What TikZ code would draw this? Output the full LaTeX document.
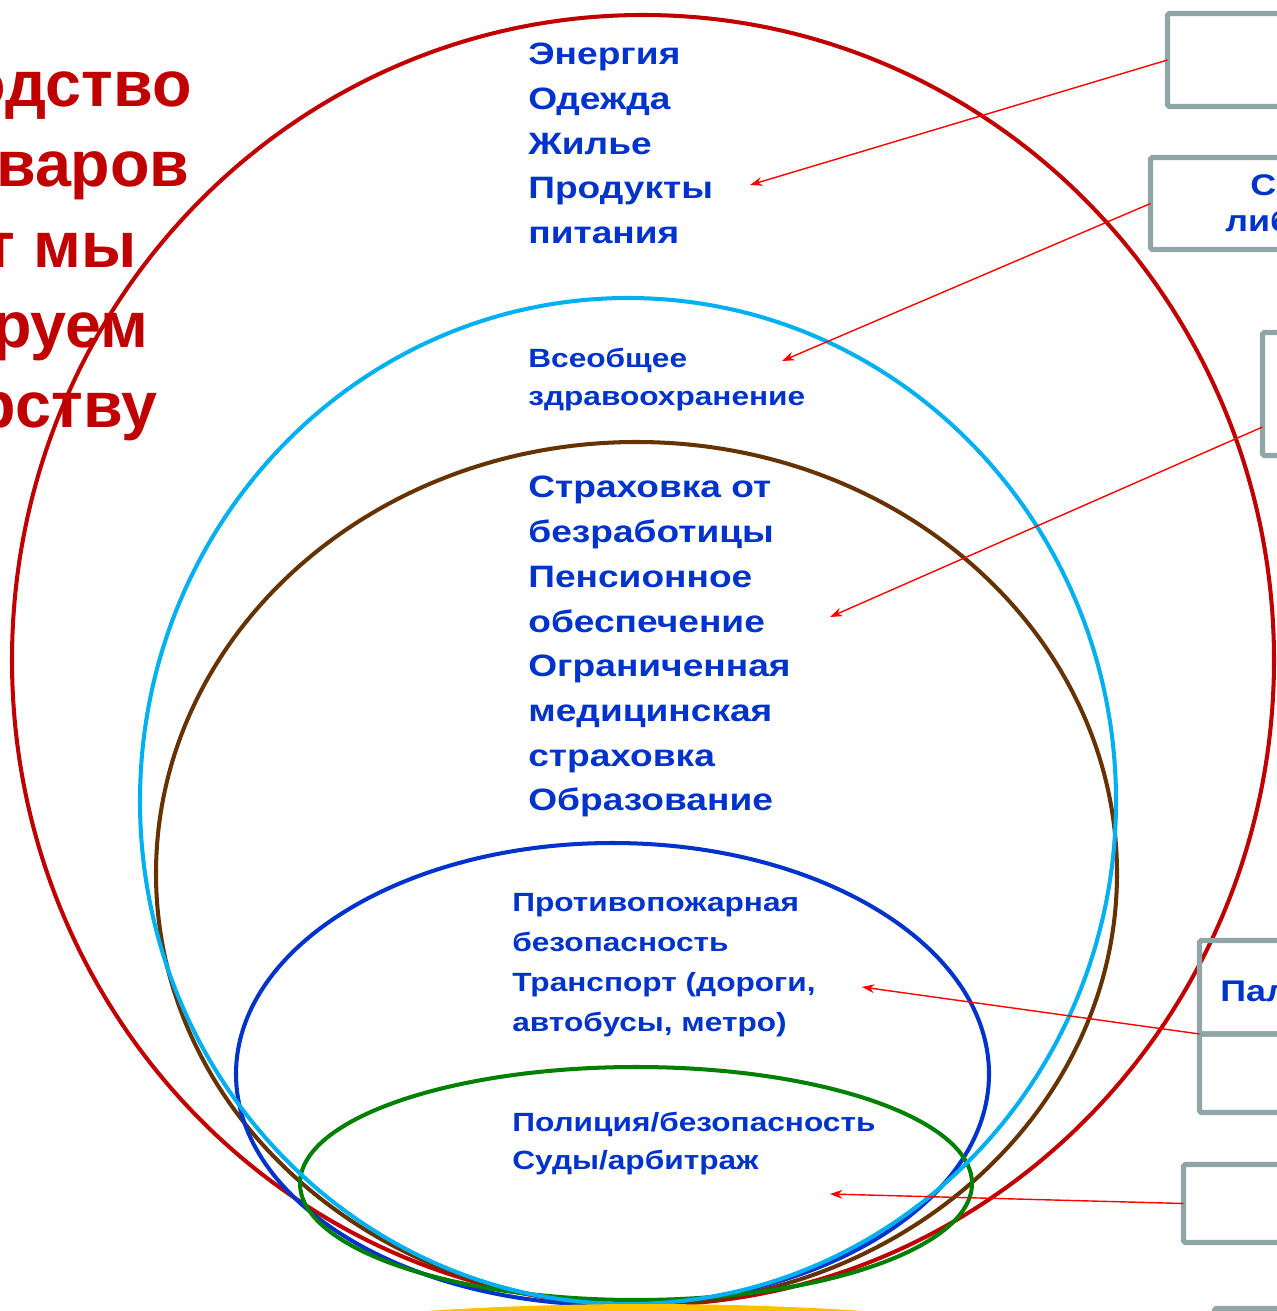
\documentclass[tikz,border=0pt]{standalone}
\usepackage{fontspec}
\setmainfont{Liberation Sans}
\newfontfamily\itemfont[FakeStretch=1.2]{Liberation Sans}
\usetikzlibrary{arrows.meta, positioning}

\definecolor{ringred}{HTML}{C00000}
\definecolor{ringcyan}{HTML}{00B0F0}
\definecolor{ringbrown}{HTML}{663300}
\definecolor{ringblue}{HTML}{0033CC}
\definecolor{ringgreen}{HTML}{008000}
\definecolor{ringyellow}{HTML}{FFC000}
\definecolor{itemblue}{HTML}{0033CC}
\definecolor{slotgray}{HTML}{8FA5A6}
\definecolor{pointred}{HTML}{FF0000}

\begin{document}
\begin{tikzpicture}[x=0.02cm, y=-0.02cm,
    ring/.style={line width=2.3pt},
    slot/.style={rectangle, draw=slotgray, line width=3pt, rounded corners=1pt,
        anchor=north west, inner sep=0pt, outer sep=0pt, minimum width=5cm},
    item/.style={text=itemblue, align=left, anchor=north west, inner sep=0pt},
    headline/.style={text=ringred, anchor=base east, inner sep=0pt,
        font=\bfseries\fontsize{36.8pt}{45pt}\selectfont},
    slottext/.style={text=itemblue, anchor=base west, inner sep=0pt,
        font=\itemfont\bfseries\fontsize{17pt}{20pt}\selectfont},
    pointer/.style={color=pointred, line width=0.8pt, -{Stealth[length=7pt, width=5pt]}}]

    \useasboundingbox (0,0) rectangle (1277,1311);
    \clip (0,0) rectangle (1277,1311);

    % heading on the left
    \foreach \word/\yy/\xx [count=\i] in {Производство/107/192, товаров/187/190,
        т мы/267/137, гарантируем/347/149, государству/427/158}
        \node (head\i) [headline] at (\xx,\yy) {\word};

    % rings
    \draw [ring, ringred] (643,660) ellipse [x radius=631, y radius=645];
    \draw [ring, ringbrown] (636.5,873.5) ellipse [x radius=480.5, y radius=431.5];
    \draw [ring, ringblue] (612.5,1074) ellipse [x radius=376.5, y radius=231];
    \draw [ring, ringgreen] (636,1183.5) ellipse [x radius=336, y radius=116.5];
    \draw [ring, ringcyan] (628,801) ellipse [x radius=488, y radius=503];
    \fill [ringyellow] (645,1386) ellipse [x radius=540, y radius=82];

    % texts inside the rings
    \node (basic) [item, font=\itemfont\bfseries\fontsize{17.6pt}{25.4pt}\selectfont] at (528,43)
        {Энергия\\Одежда\\Жилье\\Продукты\\питания};
    \node (health) [item, font=\itemfont\bfseries\fontsize{15pt}{21.5pt}\selectfont] at (528,348)
        {Всеобщее\\здравоохранение};
    \node (social) [item, font=\itemfont\bfseries\fontsize{17.6pt}{25.45pt}\selectfont] at (528,476)
        {Страховка от\\безработицы\\Пенсионное\\обеспечение\\Ограниченная\\медицинская\\страховка\\Образование};
    \node (public) [item, font=\itemfont\bfseries\fontsize{15pt}{22.7pt}\selectfont] at (512,893)
        {Противопожарная\\безопасность\\Транспорт (дороги,\\автобусы, метро)};
    \node (order) [item, font=\itemfont\bfseries\fontsize{15pt}{21.5pt}\selectfont] at (512,1112)
        {Полиция/безопасность\\Суды/арбитраж};

    % boxes on the right
    \node (b1) [slot, minimum height=1.86cm] at (1167.5,13.5) {};
    \node (b2) [slot, minimum height=1.84cm] at (1150.5,157.5) {};
    \node (b3) [slot, minimum height=2.46cm] at (1262.5,332.5) {};
    \node (b4a) [slot, minimum height=1.87cm] at (1199.5,940.5) {};
    \node (b4b) [slot, minimum height=1.57cm, below=0pt of b4a.south west, anchor=north west] {};
    \node (b5) [slot, minimum height=1.56cm] at (1183.5,1164.5) {};
    \node (b6) [slot, minimum height=1.5cm] at (1214.5,1308.5) {};

    \node (b2top) [slottext] at (1250,195) {С};
    \node (b2low) [slottext] at (1225,232) {либ};
    \node (b4top) [slottext] at (1220,1001) {Пал};

    % arrows
    \coordinate (b3port) at (1262.5,427);
    \coordinate (e1) at (750,185);
    \coordinate (e2) at (782,361);
    \coordinate (e3) at (830,617);
    \coordinate (e4) at (862,987);
    \coordinate (e5) at (830,1194);

    \path [pointer]
    (b1.west) edge (e1)
    (b2.west) edge (e2)
    (b3port) edge (e3)
    (b4a.south west) edge (e4)
    (b5.west) edge (e5);
\end{tikzpicture}
\end{document}
